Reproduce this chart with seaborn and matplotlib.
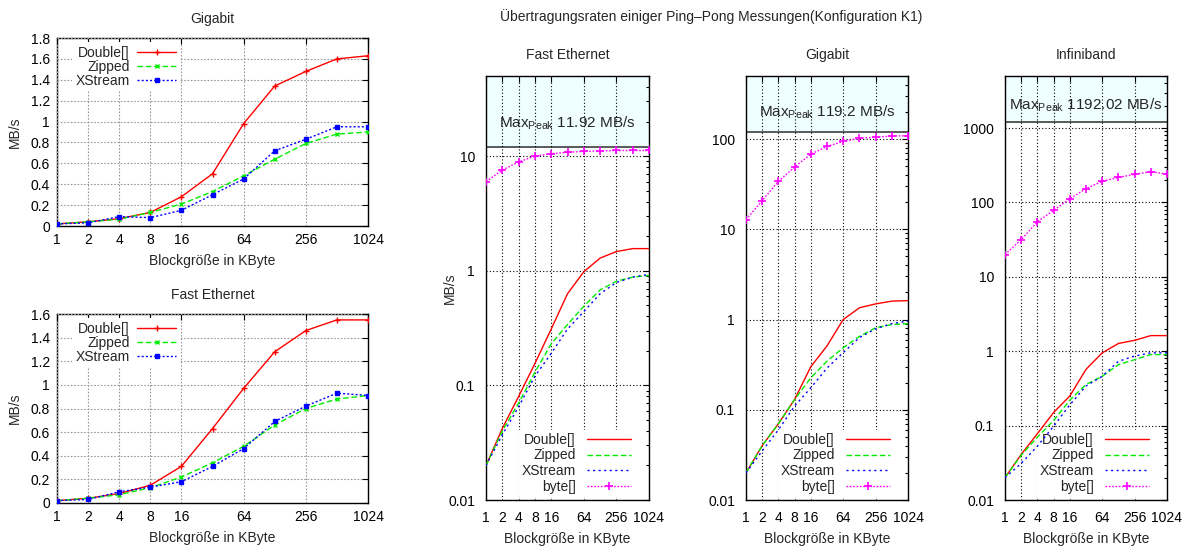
import numpy as np
import pandas as pd
import matplotlib
matplotlib.use("Agg")
import matplotlib.pyplot as plt
import seaborn as sns
from matplotlib.ticker import FixedLocator, FuncFormatter, LogLocator, NullFormatter, MultipleLocator

# ---------------- data ----------------
block_kb = [1, 2, 4, 8, 16, 32, 64, 128, 256, 512, 1024]
tick_kb = [1, 2, 4, 8, 16, 64, 256, 1024]

# left, linear panels
lin_gb_double = [0.02, 0.04, 0.07, 0.13, 0.28, 0.50, 0.98, 1.34, 1.48, 1.60, 1.63]
lin_gb_zipped = [0.02, 0.04, 0.065, 0.13, 0.21, 0.33, 0.48, 0.64, 0.79, 0.88, 0.90]
lin_gb_xstream = [0.02, 0.03, 0.09, 0.08, 0.15, 0.30, 0.45, 0.72, 0.83, 0.95, 0.95]

lin_fe_double = [0.02, 0.04, 0.08, 0.15, 0.31, 0.63, 0.97, 1.28, 1.46, 1.55, 1.55]
lin_fe_zipped = [0.02, 0.04, 0.07, 0.13, 0.22, 0.34, 0.48, 0.66, 0.80, 0.88, 0.91]
lin_fe_xstream = [0.02, 0.03, 0.095, 0.135, 0.18, 0.31, 0.46, 0.69, 0.82, 0.93, 0.91]

# right, log panels
log_fe_double = [0.02, 0.042, 0.08, 0.155, 0.31, 0.63, 0.98, 1.29, 1.47, 1.56, 1.56]
log_fe_zipped = [0.02, 0.04, 0.07, 0.13, 0.23, 0.34, 0.49, 0.68, 0.81, 0.88, 0.91]
log_fe_xstream = [0.02, 0.037, 0.065, 0.12, 0.19, 0.31, 0.44, 0.63, 0.79, 0.88, 0.93]
log_fe_byte = [6.0, 7.55, 8.9, 10.0, 10.5, 10.8, 11.0, 11.1, 11.2, 11.2, 11.2]

log_gb_double = [0.02, 0.04, 0.07, 0.13, 0.30, 0.51, 1.0, 1.35, 1.49, 1.60, 1.62]
log_gb_zipped = [0.02, 0.04, 0.07, 0.13, 0.226, 0.346, 0.486, 0.65, 0.81, 0.88, 0.90]
log_gb_xstream = [0.02, 0.035, 0.06, 0.11, 0.175, 0.29, 0.43, 0.63, 0.79, 0.90, 0.96]
log_gb_byte = [12.8, 20.8, 34, 49, 68, 83, 94, 102, 105, 108, 109]

log_ib_double = [0.02, 0.041, 0.078, 0.15, 0.25, 0.57, 0.95, 1.27, 1.40, 1.62, 1.62]
log_ib_zipped = [0.02, 0.04, 0.07, 0.117, 0.22, 0.357, 0.46, 0.66, 0.77, 0.90, 0.90]
log_ib_xstream = [0.02, 0.031, 0.053, 0.098, 0.19, 0.34, 0.46, 0.73, 0.86, 0.95, 0.95]
log_ib_byte = [19.9, 31.6, 55, 78, 112, 153, 192, 217, 238, 259, 240]

peak_values = [11.92, 119.2, 1192.02]
peak_labels = ["11.92", "119.2", "1192.02"]
log_tops = [50, 500, 5000]

series_names = ["Double[]", "Zipped", "XStream", "byte[]"]

# ---------------- style ----------------
sns.set_theme(style="white")
plt.rcParams['font.family'] = ['Liberation Sans', 'DejaVu Sans']
plt.rcParams['mathtext.fontset'] = 'custom'
plt.rcParams['mathtext.rm'] = 'Liberation Sans'
plt.rcParams['mathtext.it'] = 'Liberation Sans:italic'
plt.rcParams['axes.edgecolor'] = 'black'
plt.rcParams['axes.linewidth'] = 1.0
plt.rcParams['xtick.direction'] = 'in'
plt.rcParams['ytick.direction'] = 'in'

RED = '#ff0000'
GREEN = '#00ee00'
BLUE = '#0000ff'
MAGENTA = '#ff00ff'
FS = 10

W, H = 1191, 547
fig = plt.figure(figsize=(W / 100, H / 100), dpi=100)


def px_axes(x0, x1, ytop, ybot):
    return fig.add_axes([x0 / W, (H - ybot) / H, (x1 - x0) / W, (ybot - ytop) / H])


def fmt_g(v, pos):
    return "%g" % v


def setup_x(ax, pad):
    ax.set_xscale('log', base=2)
    ax.set_xlim(1, 1024)
    ax.xaxis.set_major_locator(FixedLocator(tick_kb))
    ax.xaxis.set_major_formatter(FuncFormatter(lambda v, p: "%d" % v))
    ax.xaxis.set_minor_locator(FixedLocator([]))
    ax.tick_params(axis='both', which='both', direction='in', top=True, right=True,
                   labelsize=FS, colors='black', pad=pad)
    ax.tick_params(which='major', length=4, width=0.8)
    ax.tick_params(which='minor', length=2.5, width=0.8)
    ax.set_xlabel("Blockgröße in KByte", fontsize=FS, labelpad=5)


def left_panel(ax, title, d, z, xs, ymax):
    for vals, name, col, ls, mk, ms in [
        (d, "Double[]", RED, '-', '+', 5),
        (z, "Zipped", GREEN, (0, (4, 2)), 'x', 3.5),
        (xs, "XStream", BLUE, (0, (1.5, 1.5)), 's', 3.5),
    ]:
        df = pd.DataFrame({"kb": block_kb, "v": vals})
        sns.lineplot(data=df, x="kb", y="v", ax=ax, color=col, linestyle=ls,
                     marker=mk, markersize=ms, markeredgecolor=col, markerfacecolor=col,
                     markeredgewidth=1.0, linewidth=1.0, label=name, estimator=None, zorder=3)
    setup_x(ax, 5)
    ax.set_ylim(0, ymax)
    ax.yaxis.set_major_locator(MultipleLocator(0.2))
    ax.yaxis.set_major_formatter(FuncFormatter(lambda v, p: "%g" % round(v, 1)))
    ax.grid(True, which='major', color='#999999', linestyle=(0, (1.5, 1.5)), linewidth=0.8)
    ax.set_axisbelow(False)
    ax.set_ylabel("MB/s", fontsize=FS)
    ax.yaxis.set_label_coords((22 - 57) / 311, 0.5)
    ax.set_title(title, fontsize=FS, pad=11)
    leg = ax.legend(loc='upper right', bbox_to_anchor=((184 - 57) / 311, 1.0),
                    frameon=True, facecolor='white', edgecolor='none',
                    framealpha=1.0, fontsize=FS, markerfirst=False, handlelength=2.8,
                    handletextpad=0.55, labelspacing=0.0, borderpad=0.25, borderaxespad=0.3,
                    fancybox=False)
    leg.get_frame().set_linewidth(0)
    leg.set_zorder(2.7)


def right_panel(ax, title, d, z, xs, b, peak, peak_lbl, top, ylabel):
    ax.axhspan(peak, top, color='#effefe', zorder=0)
    ax.axhline(peak, color='#404040', linewidth=1.2, zorder=1)
    for vals, name, col, ls, mk, ms in [
        (d, "Double[]", RED, '-', None, 0),
        (z, "Zipped", GREEN, (0, (4, 2)), None, 0),
        (xs, "XStream", BLUE, (0, (1.5, 2.5)), None, 0),
        (b, "byte[]", MAGENTA, (0, (1.2, 1.2)), '+', 6),
    ]:
        df = pd.DataFrame({"kb": block_kb, "v": vals})
        kw = {}
        if mk:
            kw = dict(marker=mk, markersize=ms, markeredgecolor=col, markeredgewidth=1.2)
        sns.lineplot(data=df, x="kb", y="v", ax=ax, color=col, linestyle=ls,
                     linewidth=1.0, label=name, estimator=None, zorder=3, **kw)
    setup_x(ax, 8)
    ax.set_yscale('log')
    ax.set_ylim(0.01, top)
    ax.yaxis.set_major_locator(LogLocator(base=10, numticks=20))
    ax.yaxis.set_major_formatter(FuncFormatter(fmt_g))
    ax.yaxis.set_minor_locator(LogLocator(base=10, subs=np.arange(2, 10), numticks=20))
    ax.yaxis.set_minor_formatter(NullFormatter())
    ax.grid(True, which='major', color='black', linestyle=(0, (1, 2)), linewidth=0.8)
    ax.set_axisbelow(False)
    ax.text(32, peak * 1.5, r"Max$_{\mathrm{Peak}}$ " + peak_lbl + " MB/s",
            ha='center', va='baseline', fontsize=FS + 1, zorder=4)
    ax.set_title(title, fontsize=FS, pad=12)
    if ylabel:
        ax.set_ylabel("MB/s", fontsize=FS)
        ax.yaxis.set_label_coords((457 - 486) / 163, 0.5)
    else:
        ax.set_ylabel("")
    leg = ax.legend(loc='lower right', bbox_to_anchor=((634 - 486) / 163, 0.008),
                    frameon=True, facecolor='white', edgecolor='none',
                    framealpha=1.0, fontsize=FS, markerfirst=False, handlelength=3.2,
                    handletextpad=0.8, labelspacing=0.12, borderpad=0.2,
                    borderaxespad=0.0, fancybox=False)
    leg.get_frame().set_linewidth(0)
    leg.set_zorder(2.7)


ax_tl = px_axes(57, 368, 38, 226)
left_panel(ax_tl, "Gigabit", lin_gb_double, lin_gb_zipped, lin_gb_xstream, 1.8)

ax_bl = px_axes(57, 368, 314, 503)
left_panel(ax_bl, "Fast Ethernet", lin_fe_double, lin_fe_zipped, lin_fe_xstream, 1.6)

ax_fe = px_axes(486, 649, 76, 500)
right_panel(ax_fe, "Fast Ethernet", log_fe_double, log_fe_zipped, log_fe_xstream, log_fe_byte,
            peak_values[0], peak_labels[0], log_tops[0], True)

ax_gb = px_axes(746, 908, 76, 500)
right_panel(ax_gb, "Gigabit", log_gb_double, log_gb_zipped, log_gb_xstream, log_gb_byte,
            peak_values[1], peak_labels[1], log_tops[1], False)

ax_ib = px_axes(1005, 1167, 76, 500)
right_panel(ax_ib, "Infiniband", log_ib_double, log_ib_zipped, log_ib_xstream, log_ib_byte,
            peak_values[2], peak_labels[2], log_tops[2], False)

fig.text(711 / W, 1 - 17 / H, "Übertragungsraten einiger Ping–Pong Messungen(Konfiguration K1)",
         ha='center', va='center', fontsize=FS)

fig.savefig("out.png", dpi=100, facecolor='white')
